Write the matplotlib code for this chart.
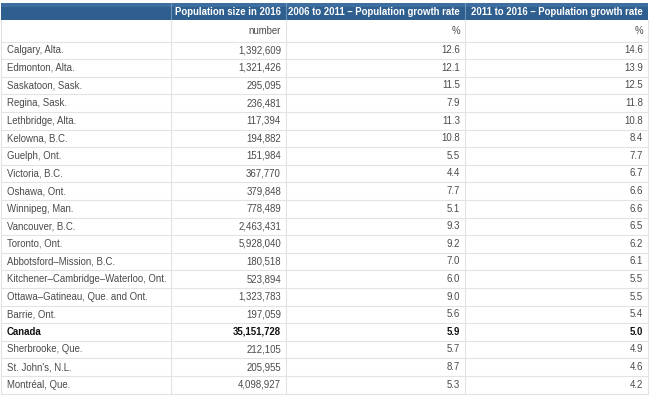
import matplotlib
matplotlib.use("Agg")
import matplotlib.pyplot as plt
from matplotlib.patches import Rectangle

plt.rcParams["font.family"] = ["Liberation Sans", "DejaVu Sans"]

headers = ["", "Population size in 2016",
           "2006 to 2011 \u2013 Population growth rate",
           "2011 to 2016 \u2013 Population growth rate"]
units = ["", "number", "%", "%"]
places = ["Calgary, Alta.", "Edmonton, Alta.", "Saskatoon, Sask.", "Regina, Sask.",
          "Lethbridge, Alta.", "Kelowna, B.C.", "Guelph, Ont.", "Victoria, B.C.",
          "Oshawa, Ont.", "Winnipeg, Man.", "Vancouver, B.C.", "Toronto, Ont.",
          "Abbotsford\u2013Mission, B.C.", "Kitchener\u2013Cambridge\u2013Waterloo, Ont.",
          "Ottawa\u2013Gatineau, Que. and Ont.", "Barrie, Ont.", "Canada",
          "Sherbrooke, Que.", "St. John's, N.L.", "Montr\u00e9al, Que."]
population = [1392609, 1321426, 295095, 236481, 117394, 194882, 151984, 367770,
              379848, 778489, 2463431, 5928040, 180518, 523894, 1323783, 197059,
              35151728, 212105, 205955, 4098927]
growth_0611 = [12.6, 12.1, 11.5, 7.9, 11.3, 10.8, 5.5, 4.4, 7.7, 5.1, 9.3, 9.2,
               7.0, 6.0, 9.0, 5.6, 5.9, 5.7, 8.7, 5.3]
growth_1116 = [14.6, 13.9, 12.5, 11.8, 10.8, 8.4, 7.7, 6.7, 6.6, 6.6, 6.5, 6.2,
               6.1, 5.5, 5.5, 5.4, 5.0, 4.9, 4.6, 4.2]
bold_rows = ["Canada"]

W, H = 650, 400
fig = plt.figure(figsize=(6.5, 4.0), dpi=100)
ax = fig.add_axes([0, 0, 1, 1])
ax.set_xlim(0, W)
ax.set_ylim(H, 0)
ax.axis("off")

col_edges = [1, 171, 286, 465, 648]
head_top, head_bot = 3, 19.5
unit_bot = 41.5
row_h = 17.6
txt = "#4a4a4a"
line = "#e3e3e3"
blue = "#2f5f8f"
fs = 6.9

# header band
ax.add_patch(Rectangle((col_edges[0], head_top), col_edges[-1] - col_edges[0],
                       head_bot - head_top, color=blue, lw=0))
ax.add_patch(Rectangle((col_edges[0], head_top), col_edges[-1] - col_edges[0],
                       4, color="#3d6e9f", lw=0))
for x in col_edges[1:-1]:
    ax.plot([x, x], [head_top, head_bot], color="#6f93b8", lw=0.8)
for j, h in enumerate(headers):
    if h:
        ax.text(col_edges[j + 1] - 5, (head_top + head_bot) / 2 + 0.5, h,
                ha="right", va="center", color="white", fontsize=fs,
                fontweight="bold")

n = len(places)
bottom = unit_bot + n * row_h
# grid lines
for x in col_edges:
    ax.plot([x, x], [head_bot, bottom], color=line, lw=0.8)
ax.plot([col_edges[0], col_edges[-1]], [unit_bot, unit_bot], color=line, lw=0.8)
for i in range(n):
    y = unit_bot + (i + 1) * row_h
    ax.plot([col_edges[0], col_edges[-1]], [y, y], color=line, lw=0.8)

# units row
for j, u in enumerate(units):
    if u:
        ax.text(col_edges[j + 1] - 5, (head_bot + unit_bot) / 2 + 1, u,
                ha="right", va="center", color=txt, fontsize=fs)

# body
for i, name in enumerate(places):
    yc = unit_bot + (i + 0.5) * row_h
    fw = "bold" if name in bold_rows else "normal"
    c = "#111111" if name in bold_rows else txt
    vals = [f"{population[i]:,}", f"{growth_0611[i]:.1f}", f"{growth_1116[i]:.1f}"]
    ax.text(col_edges[0] + 6, yc, name, ha="left", va="center", color=c,
            fontsize=fs, fontweight=fw)
    for j, v in enumerate(vals):
        ax.text(col_edges[j + 2] - 5, yc, v, ha="right", va="center", color=c,
                fontsize=fs, fontweight=fw)

fig.savefig("out.png", dpi=100, facecolor="white")
